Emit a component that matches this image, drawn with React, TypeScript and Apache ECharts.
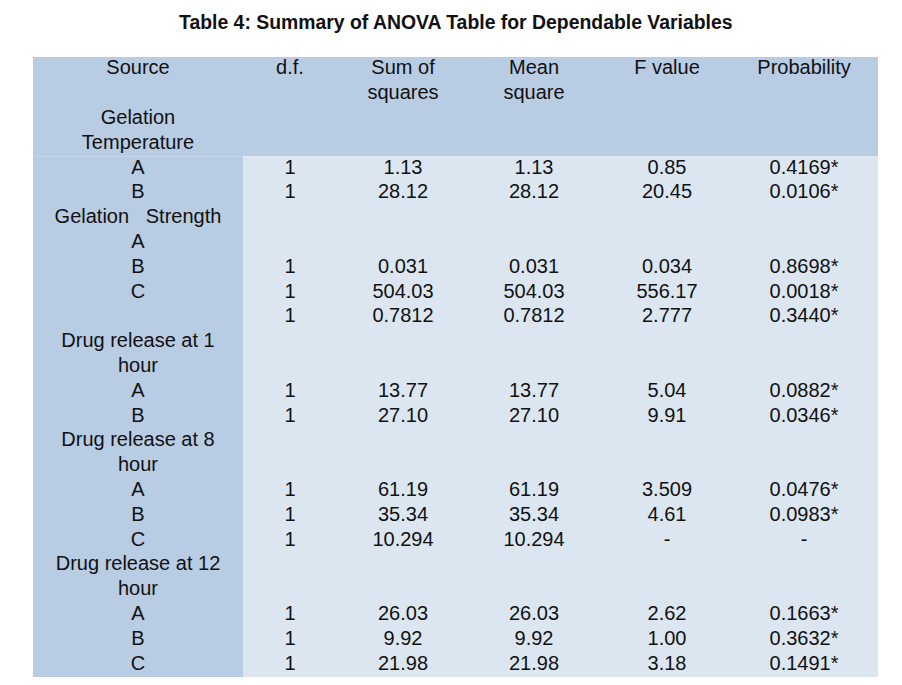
import React, { useEffect, useRef } from "react";
import * as echarts from "echarts";

const TITLE = "Table 4: Summary of ANOVA Table for Dependable Variables";
const HEADER_LINE_1 = ["Source", "d.f.", "Sum of", "Mean", "F value", "Probability"];
const HEADER_LINE_2 = ["", "", "squares", "square", "", ""];

const SOURCE = [
  "Gelation", "Temperature", "A", "B",
  "Gelation   Strength", "A", "B", "C", "",
  "Drug release at 1", "hour", "A", "B",
  "Drug release at 8", "hour", "A", "B", "C",
  "Drug release at 12", "hour", "A", "B", "C",
];
const DF = [
  "", "", "1", "1",
  "", "", "1", "1", "1",
  "", "", "1", "1",
  "", "", "1", "1", "1",
  "", "", "1", "1", "1",
];
const SUM_SQ = [
  "", "", "1.13", "28.12",
  "", "", "0.031", "504.03", "0.7812",
  "", "", "13.77", "27.10",
  "", "", "61.19", "35.34", "10.294",
  "", "", "26.03", "9.92", "21.98",
];
const MEAN_SQ = [
  "", "", "1.13", "28.12",
  "", "", "0.031", "504.03", "0.7812",
  "", "", "13.77", "27.10",
  "", "", "61.19", "35.34", "10.294",
  "", "", "26.03", "9.92", "21.98",
];
const F_VALUE = [
  "", "", "0.85", "20.45",
  "", "", "0.034", "556.17", "2.777",
  "", "", "5.04", "9.91",
  "", "", "3.509", "4.61", "-",
  "", "", "2.62", "1.00", "3.18",
];
const PROB = [
  "", "", "0.4169*", "0.0106*",
  "", "", "0.8698*", "0.0018*", "0.3440*",
  "", "", "0.0882*", "0.0346*",
  "", "", "0.0476*", "0.0983*", "-",
  "", "", "0.1663*", "0.3632*", "0.1491*",
];

// layout (table-relative x positions)
const TABLE_W = 845;
const COL_X = [105, 257, 370, 501, 634, 771];
const LEFT_COL_W = 210;
const HEADER_ROWS = 4;
const DARK = "#b8cce4";
const LIGHT = "#dce6f1";

export default function App() {
  const ref = useRef<HTMLDivElement>(null);
  useEffect(() => {
    if (!ref.current) return;
    const chart = echarts.init(ref.current, undefined, { renderer: "svg" });

    const headerRows = [HEADER_LINE_1, HEADER_LINE_2];
    const bodyCols = [SOURCE, DF, SUM_SQ, MEAN_SQ, F_VALUE, PROB];
    const nRows = headerRows.length + SOURCE.length;
    const rowCats = Array.from({ length: nRows }, (_, i) => "r" + i);

    type Cell = { x: number; row: number; text: string };
    const cells: Cell[] = [];
    headerRows.forEach((line, r) =>
      line.forEach((t, c) => {
        if (t) cells.push({ x: COL_X[c], row: r, text: t });
      })
    );
    bodyCols.forEach((col, c) =>
      col.forEach((t, i) => {
        if (t) cells.push({ x: COL_X[c], row: headerRows.length + i, text: t });
      })
    );

    const bgRegions = [
      { x0: 0, x1: TABLE_W, r0: 0, r1: HEADER_ROWS - 1, color: DARK },
      { x0: 0, x1: LEFT_COL_W, r0: HEADER_ROWS, r1: nRows - 1, color: DARK },
      { x0: LEFT_COL_W, x1: TABLE_W, r0: HEADER_ROWS, r1: nRows - 1, color: LIGHT },
    ];

    chart.setOption({
      animation: false,
      title: {
        text: TITLE,
        left: 174,
        top: 7,
        textStyle: {
          fontFamily: "Liberation Sans",
          fontSize: 19.4,
          fontWeight: "bold",
          color: "#111",
        },
      },
      grid: { left: 33, top: 57, width: TABLE_W, height: 620 },
      xAxis: { type: "value", min: 0, max: TABLE_W, show: false },
      yAxis: {
        type: "category",
        data: rowCats,
        inverse: true,
        show: false,
        boundaryGap: true,
      },
      series: [
        {
          type: "custom",
          silent: true,
          clip: false,
          data: bgRegions.map((b) => [b.x0, b.r0, b.x1, b.r1]),
          encode: { x: [0, 2], y: [1, 3] },
          renderItem: (params: any, api: any) => {
            const b = bgRegions[params.dataIndex];
            const h = api.size([0, 1])[1];
            const p0 = api.coord([b.x0, b.r0]);
            const p1 = api.coord([b.x1, b.r1]);
            return {
              type: "rect",
              shape: { x: p0[0], y: p0[1] - h / 2, width: p1[0] - p0[0], height: p1[1] - p0[1] + h },
              style: { fill: b.color },
            };
          },
          z: 1,
        },
        {
          type: "custom",
          silent: true,
          clip: false,
          data: cells.map((c) => [c.x, c.row]),
          encode: { x: 0, y: 1 },
          renderItem: (params: any, api: any) => {
            const c = cells[params.dataIndex];
            const p = api.coord([c.x, c.row]);
            return {
              type: "text",
              x: p[0],
              y: p[1] - 2,
              style: {
                text: c.text,
                fill: "#111",
                font: '20px "Liberation Sans"',
                textAlign: "center",
                textVerticalAlign: "middle",
              },
            };
          },
          z: 2,
        },
      ],
    });
    return () => chart.dispose();
  }, []);
  return (
    <div
      ref={ref}
      style={{ position: "fixed", left: 0, top: 0, width: 902, height: 685, background: "#fff" }}
    />
  );
}
